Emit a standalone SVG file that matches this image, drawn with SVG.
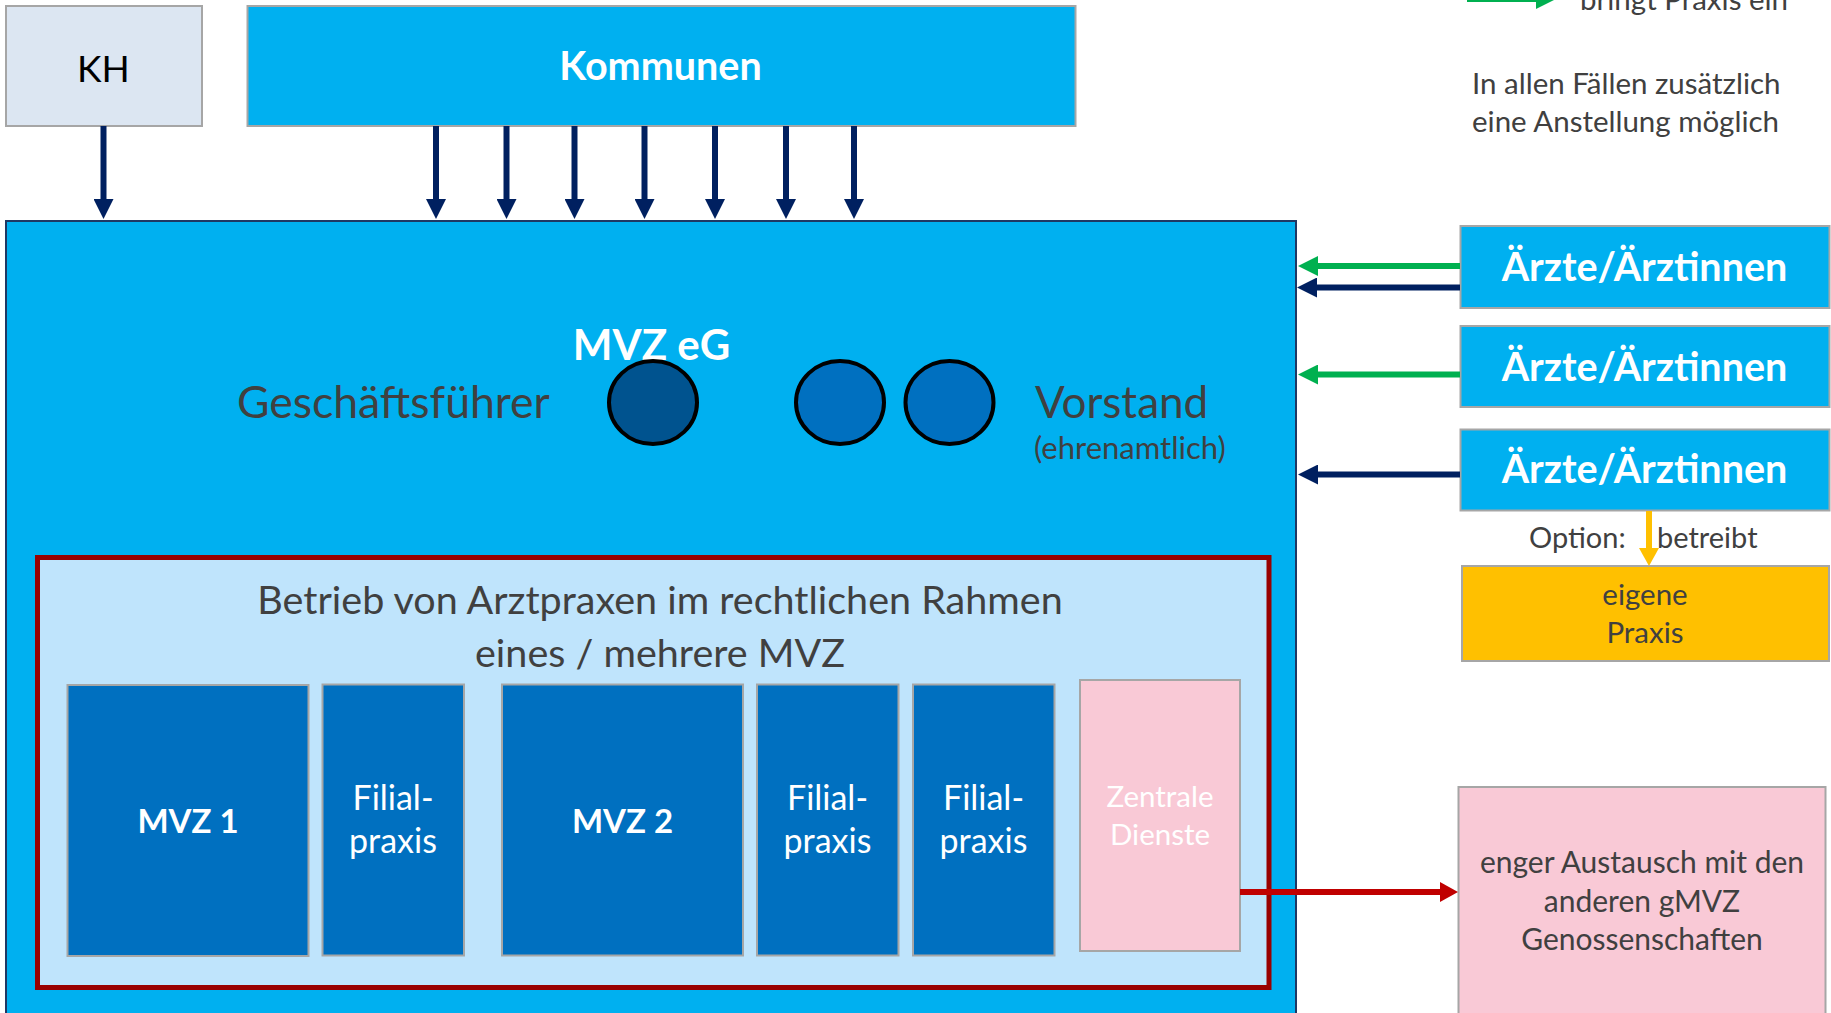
<svg xmlns="http://www.w3.org/2000/svg" width="1831" height="1013" viewBox="0 0 1831 1013">
<style>
text{font-family:Lato,"Open Sans","Liberation Sans",sans-serif}
.g{fill:#404040}
.w{fill:#ffffff}
.b{font-weight:bold}
.c{text-anchor:middle}
.bx{stroke:#A6A6A6;stroke-width:2}
.lb{fill:#00B0F0}
.db{fill:#0070C0}
.pk{fill:#F9C9D6}
.navy{stroke:#002060;stroke-width:6;fill:none}
.green{stroke:#00B050;stroke-width:6;fill:none}
.yel{stroke:#FFC000;stroke-width:6;fill:none}
.red{stroke:#C00000;stroke-width:6;fill:none}
.circ{stroke:#000000;stroke-width:4}
</style>
<defs>
<marker id="mNavy" viewBox="0 0 20 20" refX="1" refY="10" markerWidth="20" markerHeight="20" markerUnits="userSpaceOnUse" orient="auto"><path d="M0,0 L20,10 L0,20 z" fill="#002060"/></marker>
<marker id="mGreen" viewBox="0 0 20 20" refX="1" refY="10" markerWidth="20" markerHeight="20" markerUnits="userSpaceOnUse" orient="auto"><path d="M0,0 L20,10 L0,20 z" fill="#00B050"/></marker>
<marker id="mYel" viewBox="0 0 18 20" refX="1" refY="10" markerWidth="18" markerHeight="20" markerUnits="userSpaceOnUse" orient="auto"><path d="M0,0 L18,10 L0,20 z" fill="#FFC000"/></marker>
<marker id="mRed" viewBox="0 0 18 20" refX="1" refY="10" markerWidth="18" markerHeight="20" markerUnits="userSpaceOnUse" orient="auto"><path d="M0,0 L18,10 L0,20 z" fill="#C00000"/></marker>
</defs>
<rect width="1831" height="1013" fill="#ffffff"/>

<g id="legend">
<text class="g" x="1580" y="10" font-size="29.5">bringt Praxis ein</text>
<text class="g" x="1472" y="94" font-size="29.5">In allen Fällen zusätzlich</text>
<text class="g" x="1472" y="132" font-size="29.5">eine Anstellung möglich</text>
</g>

<g id="kh">
<rect class="bx" x="6" y="6" width="196" height="120" fill="#DCE6F2"/>
<text x="103.5" y="82" font-size="37" class="c" fill="#000000">KH</text>
</g>

<g id="kommunen">
<rect class="bx lb" x="247.5" y="6" width="828" height="120"/>
<text x="660.5" y="80" font-size="39.5" class="c b w">Kommunen</text>
</g>

<g id="mvz-eg">
<rect x="6" y="221" width="1290" height="820" fill="#00B0F0" stroke="#1F3864" stroke-width="2"/>
<text x="651.5" y="360" font-size="42" class="c b w">MVZ eG</text>
<text x="237" y="418" font-size="44.5" class="g">Geschäftsführer</text>
<text x="1035" y="418" font-size="44" class="g">Vorstand</text>
<text x="1034" y="459" font-size="31" class="g">(ehrenamtlich)</text>
</g>

<g id="gf-circle"><ellipse class="circ" cx="653" cy="402.5" rx="44" ry="41.5" fill="#00538F"/></g>
<g id="vorstand-circle-1"><ellipse class="circ" cx="840" cy="402.5" rx="44" ry="41.5" fill="#0070C0"/></g>
<g id="vorstand-circle-2"><ellipse class="circ" cx="949.5" cy="402.5" rx="44" ry="41.5" fill="#0070C0"/></g>

<g id="betrieb">
<rect x="37.5" y="557.5" width="1231.5" height="430" fill="#BFE4FC" stroke="#990000" stroke-width="5"/>
<text x="660" y="614" font-size="39.5" class="c g">Betrieb von Arztpraxen im rechtlichen Rahmen</text>
<text x="660" y="667" font-size="39.5" class="c g">eines / mehrere MVZ</text>
</g>

<g id="mvz1">
<rect class="bx db" x="67.5" y="685" width="241" height="271"/>
<text x="188" y="833" font-size="33" class="c b w">MVZ 1</text>
</g>
<g id="filial1">
<rect class="bx db" x="322.5" y="684.5" width="141.5" height="271"/>
<text x="393" y="810" font-size="34" class="c w">Filial-</text>
<text x="393" y="853" font-size="34" class="c w">praxis</text>
</g>
<g id="mvz2">
<rect class="bx db" x="502" y="684.5" width="241" height="271"/>
<text x="622.5" y="833" font-size="33" class="c b w">MVZ 2</text>
</g>
<g id="filial2">
<rect class="bx db" x="757" y="684.5" width="141.5" height="271"/>
<text x="827.5" y="810" font-size="34" class="c w">Filial-</text>
<text x="827.5" y="853" font-size="34" class="c w">praxis</text>
</g>
<g id="filial3">
<rect class="bx db" x="913" y="684.5" width="141.5" height="271"/>
<text x="983.5" y="810" font-size="34" class="c w">Filial-</text>
<text x="983.5" y="853" font-size="34" class="c w">praxis</text>
</g>
<g id="zentrale">
<rect class="bx pk" x="1080" y="680" width="160" height="271"/>
<text x="1160" y="807" font-size="29.5" class="c w">Zentrale</text>
<text x="1160" y="845" font-size="29.5" class="c w">Dienste</text>
</g>

<g id="aerzte1">
<rect class="bx lb" x="1460.5" y="226" width="369" height="82"/>
<text x="1644.5" y="281" font-size="39.5" class="c b w">Ärzte/Ärztinnen</text>
</g>
<g id="aerzte2">
<rect class="bx lb" x="1460.5" y="326" width="369" height="81"/>
<text x="1644.5" y="381" font-size="39.5" class="c b w">Ärzte/Ärztinnen</text>
</g>
<g id="aerzte3">
<rect class="bx lb" x="1460.5" y="429.5" width="369" height="81"/>
<text x="1644.5" y="483" font-size="39.5" class="c b w">Ärzte/Ärztinnen</text>
</g>
<g id="eigene-praxis">
<rect class="bx" x="1462" y="566" width="367" height="95" fill="#FFC000"/>
<text x="1645" y="605" font-size="29.5" class="c g">eigene</text>
<text x="1645" y="643" font-size="29.5" class="c g">Praxis</text>
</g>
<g id="austausch">
<rect class="bx pk" x="1458.5" y="787" width="367" height="260"/>
<text x="1642" y="873" font-size="30" class="c g">enger Austausch mit den</text>
<text x="1642" y="912" font-size="30" class="c g">anderen gMVZ</text>
<text x="1642" y="950" font-size="30" class="c g">Genossenschaften</text>
</g>

<g id="connectors">
<line class="green" x1="1467" y1="-1" x2="1537" y2="-1" marker-end="url(#mGreen)"/>
<line class="navy" x1="103.5" y1="126" x2="103.5" y2="200" marker-end="url(#mNavy)"/>
<line class="navy" x1="436" y1="126" x2="436" y2="200" marker-end="url(#mNavy)"/>
<line class="navy" x1="506.5" y1="126" x2="506.5" y2="200" marker-end="url(#mNavy)"/>
<line class="navy" x1="574.5" y1="126" x2="574.5" y2="200" marker-end="url(#mNavy)"/>
<line class="navy" x1="644.5" y1="126" x2="644.5" y2="200" marker-end="url(#mNavy)"/>
<line class="navy" x1="715" y1="126" x2="715" y2="200" marker-end="url(#mNavy)"/>
<line class="navy" x1="786" y1="126" x2="786" y2="200" marker-end="url(#mNavy)"/>
<line class="navy" x1="854" y1="126" x2="854" y2="200" marker-end="url(#mNavy)"/>
<line class="green" x1="1460" y1="266" x2="1317" y2="266" marker-end="url(#mGreen)"/>
<line class="navy" x1="1460" y1="287.5" x2="1316" y2="287.5" marker-end="url(#mNavy)"/>
<line class="green" x1="1460" y1="374.5" x2="1317" y2="374.5" marker-end="url(#mGreen)"/>
<line class="navy" x1="1460" y1="474.5" x2="1317" y2="474.5" marker-end="url(#mNavy)"/>
<line class="yel" x1="1649" y1="511" x2="1649" y2="549" marker-end="url(#mYel)"/>
<line class="red" x1="1240" y1="892" x2="1441" y2="892" marker-end="url(#mRed)"/>
</g>

<g id="option-label">
<text class="g" x="1529" y="548" font-size="29">Option:</text>
<text class="g" x="1657" y="548" font-size="29">betreibt</text>
</g>
</svg>
